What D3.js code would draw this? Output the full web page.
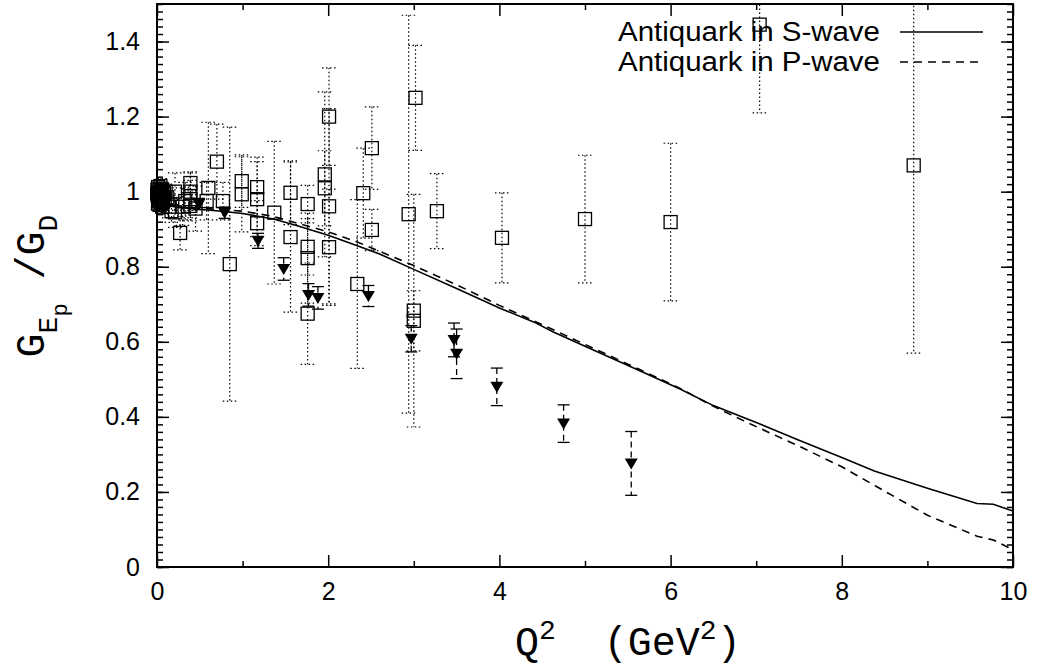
<!DOCTYPE html>
<html>
<head>
<meta charset="utf-8">
<script src="https://cdn.jsdelivr.net/npm/d3@7"></script>
<style>
  html, body { margin: 0; padding: 0; background: #fff; }
  svg { display: block; }
</style>
</head>
<body>
<svg id="chart" width="1042" height="668"></svg>
<script>
// curves
const sWaveQ = [0, 0.05, 0.1, 0.25, 0.5, 0.75, 1.0, 1.36, 1.6, 2.0, 2.34, 2.6, 3.0, 3.5, 4.0, 4.4, 4.63, 5.0, 5.64, 6.11, 6.5, 7.0, 7.5, 8.0, 8.38, 9.0, 9.58, 9.77, 10];
const sWaveG = [1.0, 0.975, 0.965, 0.958, 0.953, 0.948, 0.942, 0.927, 0.912, 0.884, 0.856, 0.834, 0.793, 0.742, 0.69, 0.653, 0.626, 0.588, 0.523, 0.474, 0.43, 0.385, 0.338, 0.292, 0.256, 0.21, 0.169, 0.167, 0.149];
const pWaveQ = [0, 0.05, 0.1, 0.25, 0.5, 1.0, 1.36, 2.0, 2.34, 3.0, 3.5, 4.0, 4.63, 5.0, 5.64, 6.11, 6.5, 7.0, 7.5, 8.0, 8.4, 9.0, 9.58, 9.77, 10];
const pWaveG = [1.0, 0.977, 0.967, 0.96, 0.956, 0.948, 0.934, 0.893, 0.866, 0.803, 0.752, 0.697, 0.632, 0.593, 0.526, 0.476, 0.428, 0.374, 0.322, 0.267, 0.215, 0.138, 0.082, 0.072, 0.046];

// open squares: world data (Q2, ratio, error)
const squareQ = [0.003, 0.006, 0.01, 0.012, 0.015, 0.02, 0.025, 0.03, 0.035, 0.04, 0.045, 0.05, 0.055, 0.06, 0.065, 0.07, 0.08, 0.09, 0.1, 0.03, 0.05, 0.012, 0.02, 0.04, 0.06, 0.12, 0.14,
  0.17, 0.21, 0.21, 0.27, 0.3, 0.33, 0.39, 0.39, 0.39, 0.39, 0.45, 0.6, 0.58, 0.7, 0.77, 0.85,
  0.99, 0.99, 1.17, 1.17, 1.17, 1.37, 1.56, 1.56, 1.76, 1.76, 1.76, 1.76,
  1.96, 1.96, 2.01, 2.01, 2.01, 2.34, 2.41, 2.51, 2.51, 2.94, 3.02, 3.0, 3.0, 3.27, 4.03, 5.0, 6.0, 7.04, 8.84];
const squareG = [0.995, 1.005, 0.99, 1.012, 0.985, 1.0, 0.975, 1.008, 0.99, 0.98, 1.0, 0.992, 0.972, 1.005, 0.985, 0.975, 0.995, 0.98, 1.0, 0.965, 0.97, 0.968, 0.985, 1.015, 0.96, 0.985, 0.96,
  0.948, 1.0, 0.945, 0.89, 0.96, 0.975, 1.023, 1.0, 0.98, 0.962, 0.955, 1.01, 0.975, 1.08, 0.975, 0.807,
  1.028, 0.993, 1.012, 0.98, 0.916, 0.944, 0.997, 0.879, 0.967, 0.853, 0.823, 0.675,
  1.046, 1.009, 0.961, 0.852, 1.2, 0.754, 0.996, 1.116, 0.898, 0.94, 1.25, 0.683, 0.656, 0.948, 0.877, 0.927, 0.919, 1.445, 1.07];
const squareErr = [0.01, 0.01, 0.01, 0.012, 0.01, 0.015, 0.012, 0.015, 0.012, 0.015, 0.015, 0.015, 0.015, 0.02, 0.015, 0.02, 0.02, 0.02, 0.02, 0.02, 0.02, 0.02, 0.02, 0.02, 0.02, 0.025, 0.03,
  0.03, 0.05, 0.04, 0.045, 0.05, 0.05, 0.03, 0.05, 0.05, 0.04, 0.06, 0.175, 0.05, 0.1, 0.05, 0.365,
  0.07, 0.1, 0.08, 0.1, 0.06, 0.19, 0.085, 0.2, 0.05, 0.075, 0.12, 0.135,
  0.22, 0.1, 0.26, 0.155, 0.13, 0.225, 0.12, 0.11, 0.055, 0.53, 0.14, 0.31, 0.08, 0.1, 0.12, 0.17, 0.21, 0.235, 0.5];

// filled triangles: polarization transfer data
const triQ = [0.49, 0.79, 1.18, 1.48, 1.77, 1.88, 2.47, 2.97, 3.47, 3.5, 3.97, 4.75, 5.54];
const triG = [0.967, 0.944, 0.869, 0.794, 0.725, 0.717, 0.722, 0.608, 0.605, 0.568, 0.48, 0.382, 0.276];
const triErr = [0.015, 0.015, 0.02, 0.03, 0.03, 0.03, 0.028, 0.035, 0.045, 0.066, 0.05, 0.05, 0.085];

const xMajor = [0, 2, 4, 6, 8, 10];
const xMinor = [1, 3, 5, 7, 9];
const yMajor = [0, 0.2, 0.4, 0.6, 0.8, 1.0, 1.2, 1.4];
const legendLabels = ["Antiquark in S-wave", "Antiquark in P-wave"];

const svg = d3.select("#chart");
const plotL = 157, plotR = 1013, plotT = 4, plotB = 567;

const x = d3.scaleLinear().domain([0, 10]).range([plotL, plotR]);
const y = d3.scaleLinear().domain([0, 1.5]).range([plotB, plotT]);

const yMinor = d3.range(0, 1.5001, 0.02).map(v => +v.toFixed(2));

svg.append("defs").append("clipPath").attr("id", "plotclip")
  .append("rect").attr("x", plotL).attr("y", plotT)
  .attr("width", plotR - plotL).attr("height", plotB - plotT);

const tickFont = "'Liberation Sans', Arial, sans-serif";

// axes with inward ticks (gnuplot style)
function styleAxis(g) {
  g.select(".domain").remove();
  g.selectAll("line").attr("stroke", "#000").attr("stroke-width", 1.5);
  g.selectAll("text").attr("font-family", tickFont).attr("font-size", "25px").attr("fill", "#000");
}

svg.append("g").attr("transform", `translate(0,${plotB})`)
  .call(d3.axisBottom(x).tickValues(xMajor).tickSizeInner(-12).tickSizeOuter(0).tickPadding(15).tickFormat(d3.format("d")))
  .call(styleAxis);
svg.append("g").attr("transform", `translate(0,${plotB})`)
  .call(d3.axisBottom(x).tickValues(xMinor).tickSizeInner(-6).tickSizeOuter(0).tickFormat(""))
  .call(styleAxis);
svg.append("g").attr("transform", `translate(0,${plotT})`)
  .call(d3.axisTop(x).tickValues(xMajor).tickSizeInner(-12).tickSizeOuter(0).tickFormat(""))
  .call(styleAxis);
svg.append("g").attr("transform", `translate(0,${plotT})`)
  .call(d3.axisTop(x).tickValues(xMinor).tickSizeInner(-6).tickSizeOuter(0).tickFormat(""))
  .call(styleAxis);

svg.append("g").attr("transform", `translate(${plotL},0)`)
  .call(d3.axisLeft(y).tickValues(yMajor).tickSizeInner(-12).tickSizeOuter(0).tickPadding(17).tickFormat(d => String(+d.toFixed(1))))
  .call(styleAxis);
svg.append("g").attr("transform", `translate(${plotL},0)`)
  .call(d3.axisLeft(y).tickValues(yMinor).tickSizeInner(-6).tickSizeOuter(0).tickFormat(""))
  .call(styleAxis);
svg.append("g").attr("transform", `translate(${plotR},0)`)
  .call(d3.axisRight(y).tickValues(yMajor).tickSizeInner(-12).tickSizeOuter(0).tickFormat(""))
  .call(styleAxis);
svg.append("g").attr("transform", `translate(${plotR},0)`)
  .call(d3.axisRight(y).tickValues(yMinor).tickSizeInner(-6).tickSizeOuter(0).tickFormat(""))
  .call(styleAxis);

const plot = svg.append("g").attr("clip-path", "url(#plotclip)");

// error bars of the squares (dotted)
const squares = squareQ.map((q, i) => ({ q, g: squareG[i], e: squareErr[i] }));
const sqBars = plot.append("g").attr("stroke", "#000").attr("stroke-width", 1.2)
  .attr("stroke-dasharray", "1.5,2.5").attr("fill", "none");
squares.forEach(d => {
  const cx = x(d.q);
  sqBars.append("line").attr("x1", cx).attr("x2", cx).attr("y1", y(d.g + d.e)).attr("y2", y(d.g - d.e));
  [d.g + d.e, d.g - d.e].forEach(v => {
    sqBars.append("line").attr("x1", cx - 7).attr("x2", cx + 7).attr("y1", y(v)).attr("y2", y(v));
  });
});

// theory curves
const line = d3.line().x(d => x(d[0])).y(d => y(d[1]));
plot.append("path").datum(sWaveQ.map((q, i) => [q, sWaveG[i]]))
  .attr("d", line).attr("fill", "none").attr("stroke", "#000").attr("stroke-width", 1.6);
plot.append("path").datum(pWaveQ.map((q, i) => [q, pWaveG[i]]))
  .attr("d", line).attr("fill", "none").attr("stroke", "#000").attr("stroke-width", 1.6)
  .attr("stroke-dasharray", "8,6");

// triangles with dashed error bars
const tris = triQ.map((q, i) => ({ q, g: triG[i], e: triErr[i] }));
const trBars = plot.append("g").attr("stroke", "#000").attr("stroke-width", 1.3);
tris.forEach(d => {
  const cx = x(d.q);
  trBars.append("line").attr("x1", cx).attr("x2", cx).attr("y1", y(d.g + d.e)).attr("y2", y(d.g - d.e))
    .attr("stroke-dasharray", "6,4");
  [d.g + d.e, d.g - d.e].forEach(v => {
    trBars.append("line").attr("x1", cx - 6).attr("x2", cx + 6).attr("y1", y(v)).attr("y2", y(v));
  });
});

// frame
svg.append("rect").attr("x", plotL).attr("y", plotT).attr("width", plotR - plotL).attr("height", plotB - plotT)
  .attr("fill", "none").attr("stroke", "#000").attr("stroke-width", 2);

// point symbols are not clipped (they may sit on the frame)
svg.append("g").selectAll("rect").data(squares).enter().append("rect")
  .attr("x", d => x(d.q) - 6.5).attr("y", d => y(d.g) - 6.5)
  .attr("width", 13).attr("height", 13)
  .attr("fill", "none").attr("stroke", "#000").attr("stroke-width", 1.3);

svg.append("g").selectAll("path").data(tris).enter().append("path")
  .attr("d", d => {
    const cx = x(d.q), cy = y(d.g);
    return `M${cx - 6.5},${cy - 5}L${cx + 6.5},${cy - 5}L${cx},${cy + 6}Z`;
  })
  .attr("fill", "#000");

// legend
const legend = svg.append("g");
legendLabels.forEach((t, i) => {
  const ly = 32 + i * 30;
  legend.append("text").attr("x", 618).attr("y", ly + 9)
    .attr("textLength", 262).attr("lengthAdjust", "spacingAndGlyphs")
    .attr("font-family", tickFont).attr("font-size", "27px").attr("fill", "#000").text(t);
  legend.append("line").attr("x1", 900).attr("x2", 983).attr("y1", ly).attr("y2", ly)
    .attr("stroke", "#000").attr("stroke-width", 1.6)
    .attr("stroke-dasharray", i === 1 ? "8,6" : null);
});

// axis titles
const monoFont = "'Liberation Mono', 'DejaVu Sans Mono', monospace";
const xt = svg.append("text").attr("x", 515).attr("y", 655)
  .attr("font-family", monoFont).attr("font-size", "40px").attr("fill", "#000");
xt.append("tspan").text("Q");
xt.append("tspan").attr("dy", -16).attr("font-size", "28px").text("2");
xt.append("tspan").attr("dy", 16).text("\u00a0\u00a0(GeV");
xt.append("tspan").attr("dy", -16).attr("font-size", "28px").text("2");
xt.append("tspan").attr("dy", 16).text(")");

const yt = svg.append("text").attr("transform", "translate(44,286) rotate(-90)")
  .attr("text-anchor", "middle")
  .attr("font-family", monoFont).attr("font-size", "40px").attr("fill", "#000");
yt.append("tspan").text("G");
yt.append("tspan").attr("dy", 13).attr("font-size", "28px").text("E");
yt.append("tspan").attr("dy", 10).attr("font-size", "22px").text("p");
yt.append("tspan").attr("dy", -23).text("\u00a0/");
yt.append("tspan").text("G");
yt.append("tspan").attr("dy", 13).attr("font-size", "28px").text("D");
</script>
</body>
</html>
